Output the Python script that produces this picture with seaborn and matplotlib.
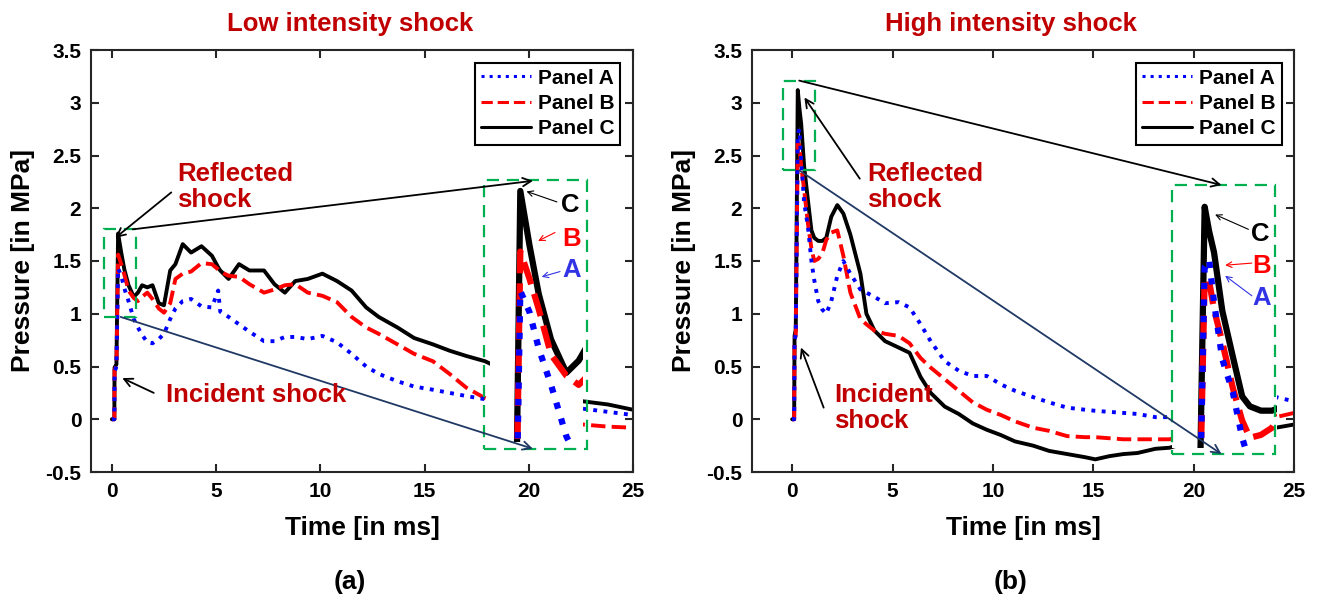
import matplotlib
matplotlib.use("Agg")
import matplotlib.pyplot as plt
import pandas as pd
import seaborn as sns
from matplotlib.patches import Rectangle
from matplotlib.lines import Line2D

# ---------------- data ----------------
t_low = [0.00, 0.12, 0.13, 0.22, 0.30, 0.45, 0.60, 0.80, 1.05, 1.25, 1.45, 1.70, 1.95, 2.25, 2.50,
         2.80, 3.05, 3.40, 3.80, 4.30, 4.80, 5.10, 5.20, 5.60, 6.10, 6.60, 7.30, 7.80, 8.30, 8.80,
         9.40, 10.1, 10.8, 11.5, 12.2, 12.8, 13.7, 14.5, 15.4, 16.2, 17.0, 17.9, 20.0, 22.6, 23.8, 25.0]
a_low = [0.00, 0.00, 0.45, 0.50, 1.43, 1.36, 1.24, 1.12, 0.95, 0.87, 0.80, 0.73, 0.72, 0.76, 0.81,
         0.95, 1.05, 1.12, 1.14, 1.07, 1.06, 1.22, 1.02, 0.97, 0.90, 0.83, 0.74, 0.74, 0.78, 0.78,
         0.76, 0.79, 0.73, 0.62, 0.50, 0.43, 0.36, 0.31, 0.28, 0.25, 0.22, 0.19, 0.14, 0.10, 0.07, 0.04]
b_low = [0.00, 0.00, 0.47, 0.50, 1.56, 1.47, 1.37, 1.22, 1.15, 1.12, 1.16, 1.20, 1.14, 1.05, 1.01,
         1.10, 1.33, 1.38, 1.40, 1.48, 1.47, 1.42, 1.40, 1.36, 1.35, 1.28, 1.20, 1.23, 1.27, 1.28,
         1.20, 1.17, 1.11, 0.97, 0.87, 0.81, 0.71, 0.62, 0.55, 0.43, 0.30, 0.20, 0.05, -0.05, -0.07, -0.08]
c_low = [0.00, 0.00, 0.49, 0.52, 1.76, 1.58, 1.42, 1.27, 1.16, 1.20, 1.27, 1.25, 1.27, 1.10, 1.08,
         1.41, 1.47, 1.66, 1.58, 1.64, 1.55, 1.44, 1.41, 1.33, 1.47, 1.41, 1.41, 1.28, 1.20, 1.31,
         1.33, 1.38, 1.31, 1.22, 1.06, 0.97, 0.87, 0.77, 0.71, 0.65, 0.60, 0.55, 0.35, 0.17, 0.14, 0.09]

t_high = [0.00, 0.10, 0.12, 0.18, 0.28, 0.36, 0.45, 0.60, 0.79, 0.96, 1.10, 1.30, 1.50, 1.70, 1.95,
          2.25, 2.55, 2.90, 3.40, 3.70, 4.10, 4.63, 5.30, 5.85, 6.40, 6.90, 7.60, 8.30, 9.00, 9.70,
          10.4, 11.1, 12.0, 12.8, 13.7, 14.6, 15.1, 15.8, 16.5, 17.2, 18.1, 18.8, 21.0, 24.1, 25.0]
a_high = [0.00, 0.00, 0.75, 0.80, 2.70, 2.75, 2.45, 2.05, 1.82, 1.50, 1.32, 1.12, 1.04, 1.00, 1.12,
          1.36, 1.50, 1.38, 1.23, 1.20, 1.16, 1.10, 1.11, 1.06, 0.90, 0.74, 0.55, 0.46, 0.41, 0.41,
          0.33, 0.27, 0.21, 0.16, 0.11, 0.09, 0.08, 0.07, 0.06, 0.05, 0.02, 0.02, 0.10, 0.21, 0.17]
b_high = [0.00, 0.00, 0.75, 0.80, 2.62, 2.60, 2.40, 2.17, 1.85, 1.62, 1.50, 1.52, 1.57, 1.70, 1.77,
          1.79, 1.55, 1.20, 0.95, 0.90, 0.84, 0.81, 0.79, 0.72, 0.58, 0.49, 0.38, 0.27, 0.16, 0.09,
          0.04, -0.02, -0.08, -0.11, -0.16, -0.17, -0.17, -0.18, -0.19, -0.19, -0.19, -0.19, -0.10, 0.02, 0.06]
c_high = [0.00, 0.00, 0.79, 0.85, 3.12, 2.95, 2.80, 2.39, 2.07, 1.79, 1.72, 1.69, 1.69, 1.72, 1.92,
          2.03, 1.95, 1.75, 1.38, 1.00, 0.84, 0.74, 0.68, 0.63, 0.40, 0.25, 0.12, 0.05, -0.04, -0.10,
          -0.15, -0.21, -0.25, -0.30, -0.33, -0.36, -0.38, -0.35, -0.33, -0.32, -0.28, -0.27, -0.15, -0.08, -0.05]

series_labels = ["Panel A", "Panel B", "Panel C"]
panel_titles = ["Low intensity shock", "High intensity shock"]
panel_tags = ["(a)", "(b)"]
x_ticks = [0, 5, 10, 15, 20, 25]
y_ticks = [-0.5, 0, 0.5, 1, 1.5, 2, 2.5, 3, 3.5]
y_tick_labels = ["-0.5", "0", "0.5", "1", "1.5", "2", "2.5", "3", "3.5"]

# ---------------- style ----------------
sns.set_style("ticks")
plt.rcParams["font.family"] = ["Liberation Sans", "DejaVu Sans"]
plt.rcParams["font.weight"] = "bold"
plt.rcParams["axes.labelweight"] = "bold"
plt.rcParams["axes.titleweight"] = "bold"
plt.rcParams["text.color"] = "black"
plt.rcParams["axes.labelcolor"] = "black"
plt.rcParams["xtick.color"] = "black"
plt.rcParams["ytick.color"] = "black"

DARKRED = "#C00000"
GREEN = "#00B050"
NAVY = "#1F3864"
SPINE = "#262626"
STYLES = {"A": ("#0000FF", ":"), "B": ("#FF0000", "--"), "C": ("#000000", "-")}

fig = plt.figure(figsize=(13.2, 6.02), dpi=100)
ax_l = fig.add_axes([91 / 1320, 130 / 602, 542 / 1320, 422 / 602])
ax_r = fig.add_axes([752 / 1320, 130 / 602, 542 / 1320, 422 / 602])


def draw_lines(ax, df, lw):
    for key in ["C", "B", "A"]:
        color, ls = STYLES[key]
        sns.lineplot(data=df, x="t", y=key, ax=ax, color=color, linestyle=ls, lw=lw,
                     estimator=None, sort=False, legend=False)


def panel(ax, t, a, b, c, xmin, inset_rect, inset_xlim, inset_ylim, title, tag, tag_x):
    df = pd.DataFrame({"t": t, "A": a, "B": b, "C": c})
    draw_lines(ax, df, 2.8)
    ax.set_xlim(xmin, 25)
    ax.set_ylim(-0.5, 3.5)
    ax.set_xticks(x_ticks)
    ax.set_yticks(y_ticks)
    ax.set_yticklabels(y_tick_labels)
    ax.tick_params(direction="in", length=6, width=1.5, top=True, right=True,
                   labelsize=15, pad=7, color=SPINE, labelcolor="black")
    for s in ax.spines.values():
        s.set_linewidth(1.5)
        s.set_color(SPINE)
    ax.set_xlabel("Time [in ms]", fontsize=19)
    ax.set_ylabel("Pressure [in MPa]", fontsize=19)
    ax.xaxis.set_label_coords(0.5, -0.133)
    ax.xaxis.label.set_va("center")
    ax.yaxis.set_label_coords(-0.125, 0.5)
    ax.yaxis.label.set_va("center")
    ax.set_title(title, color=DARKRED, fontsize=18.5, pad=14, x=0.478)
    fig.text(tag_x / 1320, 1 - 582 / 602, tag, ha="center", va="center", fontsize=19,
             fontweight="bold", color="black")

    handles = [Line2D([], [], color=STYLES[k][0], ls=STYLES[k][1], lw=2.2) for k in "ABC"]
    leg = ax.legend(handles, series_labels, loc="upper right", fontsize=15, handlelength=2.4,
                    handletextpad=0.3, borderpad=0.3, labelspacing=0.3, borderaxespad=0.6,
                    fancybox=False, framealpha=1, edgecolor="black")
    leg.get_frame().set_linewidth(1.5)

    ins = ax.inset_axes(inset_rect, transform=ax.transData)
    draw_lines(ins, df, 4.5)
    ins.set_xlim(*inset_xlim)
    ins.set_ylim(*inset_ylim)
    ins.set_xticks([])
    ins.set_yticks([])
    ins.set_xlabel("")
    ins.set_ylabel("")
    ins.set_facecolor("white")
    for s in ins.spines.values():
        s.set_visible(False)
    return ins


def box(ax, x0, y0, x1, y1):
    ax.add_patch(Rectangle((x0, y0), x1 - x0, y1 - y0, fill=False, edgecolor=GREEN, lw=1.6,
                           linestyle=(0, (5.5, 3.5)), zorder=8, clip_on=False))


def arrow(ax, tail, head, color="black", lw=1.2, hl=0.6, hw=0.3):
    ax.annotate("", xy=head, xytext=tail,
                arrowprops=dict(arrowstyle=f"->,head_length={hl},head_width={hw}", color=color,
                                lw=lw, shrinkA=0, shrinkB=0), zorder=9)


def label(ax, x, y, s, color, ha="left"):
    ax.text(x, y, s, color=color, fontsize=18.5, fontweight="bold", ha=ha, va="center",
            zorder=9, linespacing=1.1)


# ---------------- left panel ----------------
panel(ax_l, t_low, a_low, b_low, c_low, -1, [18.15, -0.22, 4.45, 2.47], (-0.19, 1.32),
      (0.93, 1.79), panel_titles[0], panel_tags[0], 350)
box(ax_l, -0.39, 0.97, 1.17, 1.80)
box(ax_l, 17.87, -0.28, 22.77, 2.27)
arrow(ax_l, (1.0, 1.80), (20.2, 2.26), lw=1.3)
arrow(ax_l, (0.42, 0.97), (20.2, -0.28), color=NAVY, lw=1.3)
label(ax_l, 3.14, 2.2, "Reflected\nshock", DARKRED)
arrow(ax_l, (2.85, 2.15), (0.17, 1.72), lw=1.3)
label(ax_l, 2.6, 0.23, "Incident shock", DARKRED)
arrow(ax_l, (2.01, 0.25), (0.5, 0.39), lw=1.3)
label(ax_l, 21.98, 2.03, "C", "black", ha="center")
arrow(ax_l, (21.35, 2.06), (19.89, 2.16), lw=0.8, hl=0.4, hw=0.2)
label(ax_l, 22.06, 1.71, "B", "#FF0000", ha="center")
arrow(ax_l, (21.26, 1.77), (20.45, 1.69), color="#FF0000", lw=0.8, hl=0.4, hw=0.2)
label(ax_l, 22.06, 1.41, "A", "#3333E6", ha="center")
arrow(ax_l, (21.5, 1.40), (20.62, 1.35), color="#3333E6", lw=0.8, hl=0.4, hw=0.2)

# ---------------- right panel ----------------
panel(ax_r, t_high, a_high, b_high, c_high, -2, [18.9, -0.27, 5.25, 2.50], (-0.32, 1.59),
      (1.43, 3.28), panel_titles[1], panel_tags[1], 1011)
box(ax_r, -0.44, 2.36, 1.13, 3.21)
box(ax_r, 18.94, -0.33, 24.04, 2.22)
arrow(ax_r, (0.35, 3.21), (21.39, 2.22), lw=1.3)
arrow(ax_r, (0.35, 2.36), (21.39, -0.33), color=NAVY, lw=1.3)
label(ax_r, 3.75, 2.2, "Reflected\nshock", DARKRED)
arrow(ax_r, (3.37, 2.28), (0.61, 3.05), lw=1.3)
label(ax_r, 2.09, 0.11, "Incident\nshock", DARKRED)
arrow(ax_r, (1.57, 0.11), (0.44, 0.68), lw=1.3)
label(ax_r, 23.31, 1.76, "C", "black", ha="center")
arrow(ax_r, (22.73, 1.80), (21.07, 1.94), lw=0.8, hl=0.4, hw=0.2)
label(ax_r, 23.4, 1.45, "B", "#FF0000", ha="center")
arrow(ax_r, (22.9, 1.48), (21.57, 1.46), color="#FF0000", lw=0.8, hl=0.4, hw=0.2)
label(ax_r, 23.4, 1.15, "A", "#3333E6", ha="center")
arrow(ax_r, (22.9, 1.17), (21.57, 1.36), color="#3333E6", lw=0.8, hl=0.4, hw=0.2)

fig.savefig("out.png", dpi=100)
